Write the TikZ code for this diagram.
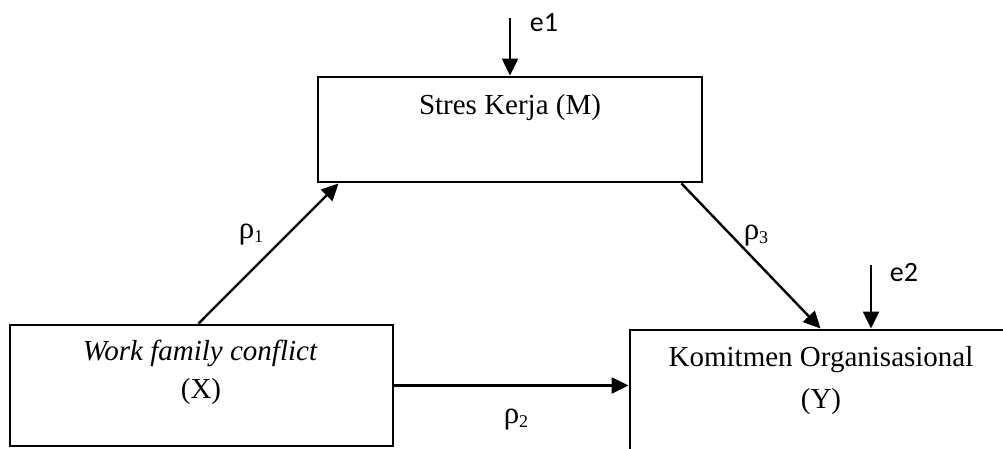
\documentclass[tikz,border=0pt]{standalone}
\usepackage{fontspec}
\setmainfont{Liberation Serif}
\newfontfamily\calibri{Carlito}
\usetikzlibrary{arrows.meta}
\tikzset{
  box/.style={draw, line width=2.9pt, rectangle, inner sep=0pt},
  conn/.style={line width=2.4pt, -{Triangle[length=17pt,width=16pt]}},
  boxtext/.style={font=\fontsize{29}{35}\selectfont, anchor=base, inner sep=0pt},
  errlabel/.style={font=\calibri\fontsize{28}{34}\selectfont, inner sep=0pt},
  rholabel/.style={font=\fontsize{31}{36}\selectfont, inner sep=0pt}
}
\newcommand{\rhosub}[1]{ρ\raisebox{-4pt}{\fontsize{18}{22}\selectfont #1}}
\begin{document}
\begin{tikzpicture}[x=1pt,y=-1pt]
\useasboundingbox (0,0) rectangle (1003,449);
\clip (0,0) rectangle (1003,449);
% boxes
\node[box, minimum width=384pt, minimum height=105pt] (M) at (510,129.5) {};
\node[box, minimum width=383pt, minimum height=121pt] (X) at (201.5,385.5) {};
\node[box, minimum width=420pt, minimum height=160pt] (Y) at (840,410) {};
% texts
\node[boxtext] (Mt) at (510,115) {Stres Kerja (M)};
\node[boxtext] (Xt1) at (200,360) {\itshape Work family conflict};
\node[boxtext] (Xt2) at (201,398) {(X)};
\node[boxtext] (Yt1) at (821,366) {Komitmen Organisasional};
\node[boxtext] (Yt2) at (821,408) {(Y)};
% error terms
\coordinate (e1s) at (510,18);
\coordinate (e2s) at (871,265);
\node[errlabel] (e1) at (544,23) {e1};
\node[errlabel] (e2) at (904,273) {e2};
\draw[conn] (e1s) -- (M.north);
\draw[conn] (e2s) -- (e2s |- Y.north);
% paths
\draw[conn] ([xshift=-3pt]X.north) -- ([xshift=22pt]M.south west);
\draw[conn] ([xshift=-22pt]M.south east) -- ([xshift=192pt]Y.north west);
\draw[conn] (X.east) -- (X.east -| Y.west);
% path labels
\node[rholabel] (r1) at (251,235) {\rhosub{1}};
\node[rholabel] (r3) at (756,236) {\rhosub{3}};
\node[rholabel] (r2) at (516,420) {\rhosub{2}};
\end{tikzpicture}
\end{document}
